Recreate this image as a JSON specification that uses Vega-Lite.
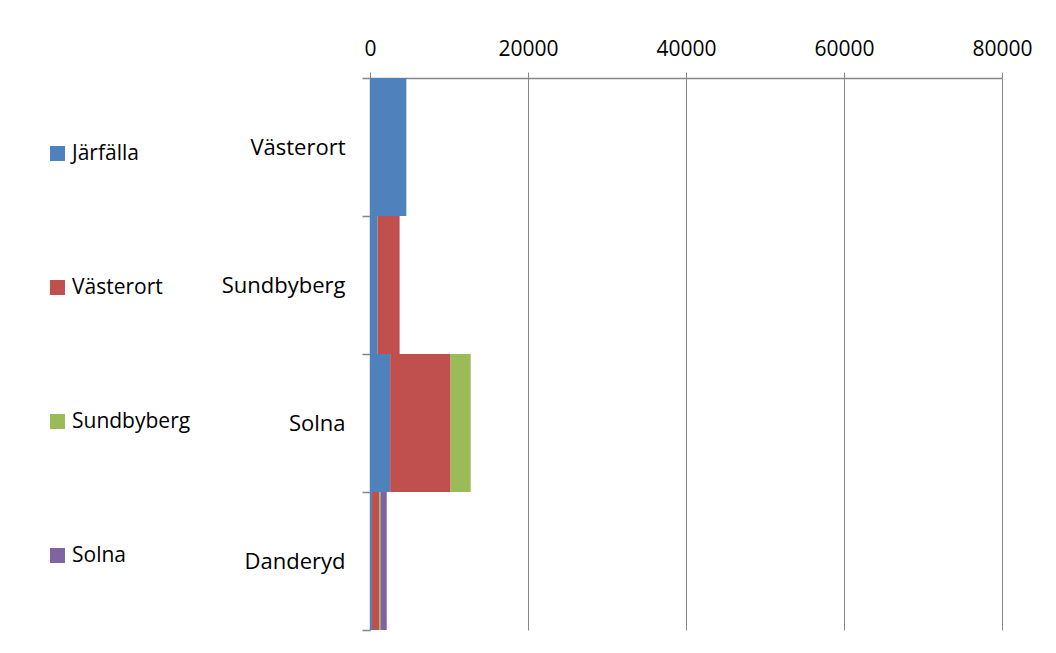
{
  "$schema": "https://vega.github.io/schema/vega-lite/v6.json",
  "width": 632,
  "height": 552,
  "autosize": {"type": "none"},
  "padding": {"left": 370, "top": 78, "right": 54, "bottom": 23},
  "background": "white",
  "config": {
    "font": "Open Sans",
    "view": {"stroke": null}
  },
  "data": {
    "values": [
      {"omrade": "Västerort", "serie": "Järfälla", "varde": 4600},
      {"omrade": "Sundbyberg", "serie": "Järfälla", "varde": 950},
      {"omrade": "Sundbyberg", "serie": "Västerort", "varde": 2800},
      {"omrade": "Solna", "serie": "Järfälla", "varde": 2550},
      {"omrade": "Solna", "serie": "Västerort", "varde": 7650},
      {"omrade": "Solna", "serie": "Sundbyberg", "varde": 2550},
      {"omrade": "Danderyd", "serie": "Järfälla", "varde": 250},
      {"omrade": "Danderyd", "serie": "Västerort", "varde": 900},
      {"omrade": "Danderyd", "serie": "Sundbyberg", "varde": 170},
      {"omrade": "Danderyd", "serie": "Solna", "varde": 800}
    ]
  },
  "transform": [
    {"calculate": "indexof(['Järfälla','Västerort','Sundbyberg','Solna'], datum.serie)", "as": "ordning"}
  ],
  "mark": {"type": "bar"},
  "encoding": {
    "y": {
      "field": "omrade",
      "type": "nominal",
      "sort": ["Västerort", "Sundbyberg", "Solna", "Danderyd"],
      "scale": {"paddingInner": 0, "paddingOuter": 0},
      "axis": {
        "title": null,
        "domainColor": "#868686",
        "domainWidth": 1.5,
        "tickColor": "#868686",
        "tickSize": 8,
        "tickWidth": 1.5,
        "tickBand": "extent",
        "labelFontSize": 22,
        "labelColor": "#000000",
        "labelPadding": 17,
        "grid": false
      }
    },
    "x": {
      "field": "varde",
      "type": "quantitative",
      "stack": "zero",
      "scale": {"domain": [0, 80000], "nice": false},
      "axis": {
        "orient": "top",
        "title": null,
        "values": [0, 20000, 40000, 60000, 80000],
        "format": "d",
        "domainColor": "#868686",
        "domainWidth": 1.5,
        "tickColor": "#868686",
        "tickSize": 6,
        "tickWidth": 1,
        "grid": true,
        "gridColor": "#868686",
        "gridWidth": 1,
        "gridOpacity": 1,
        "labelFontSize": 21,
        "labelColor": "#000000",
        "labelPadding": 13,
        "labelFlush": false
      }
    },
    "order": {"field": "ordning", "type": "quantitative", "sort": "ascending"},
    "color": {
      "field": "serie",
      "type": "nominal",
      "scale": {
        "domain": ["Järfälla", "Västerort", "Sundbyberg", "Solna"],
        "range": ["#4F81BD", "#C0504D", "#9BBB59", "#8064A2"]
      },
      "legend": {
        "title": null,
        "orient": "none",
        "legendX": -323,
        "legendY": 65,
        "symbolType": "square",
        "symbolSize": 225,
        "symbolStrokeWidth": 0,
        "labelFontSize": 21,
        "labelColor": "#000000",
        "labelOffset": 4,
        "rowPadding": 112
      }
    }
  }
}
